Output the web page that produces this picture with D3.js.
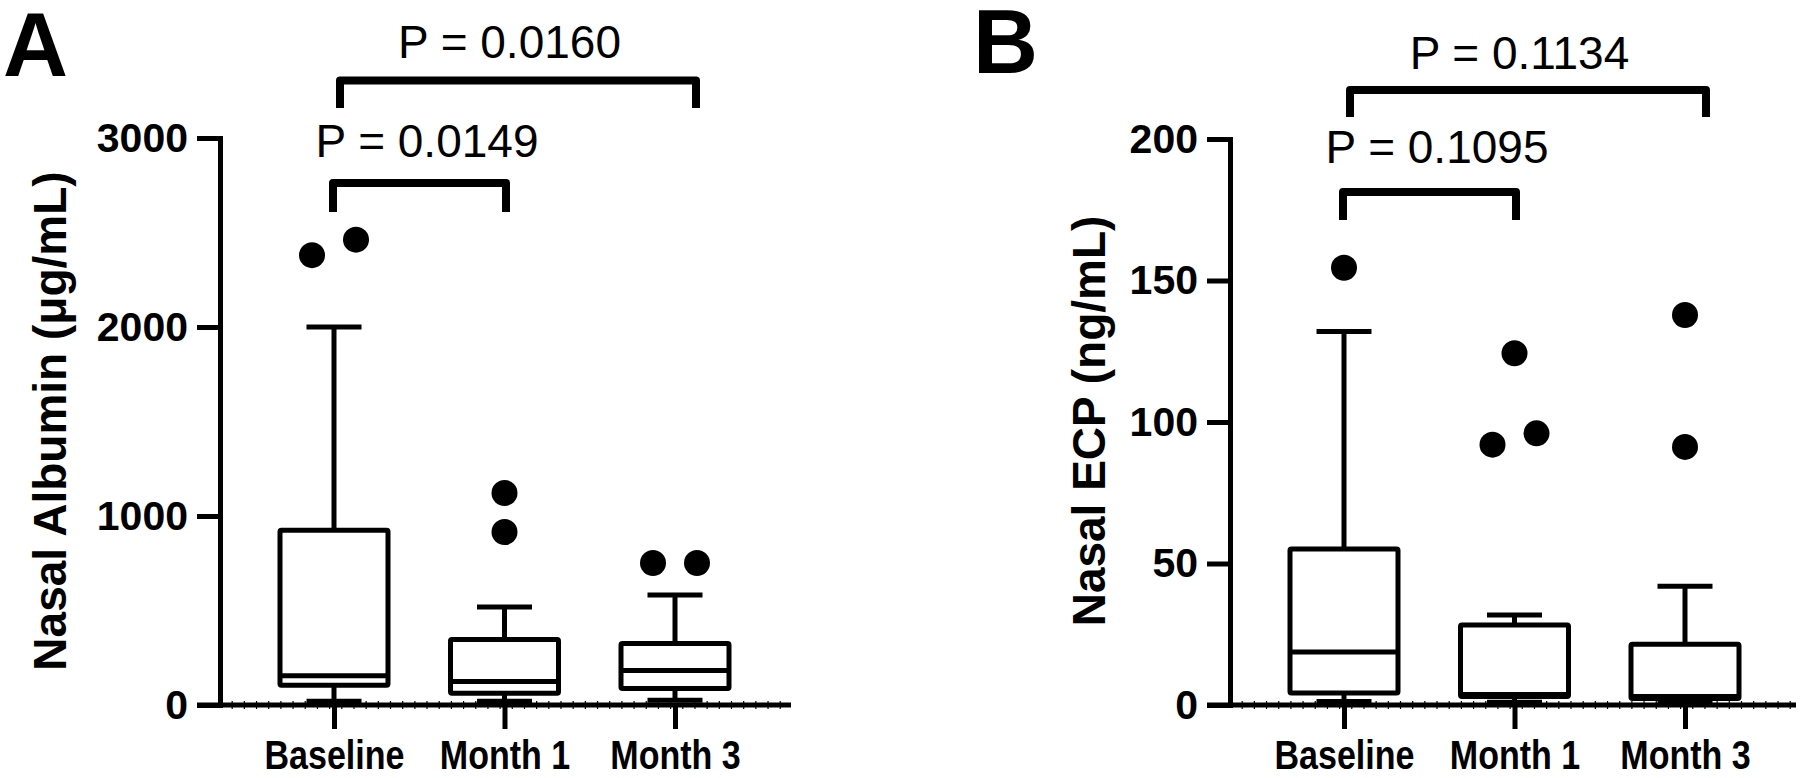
<!DOCTYPE html>
<html>
<head>
<meta charset="utf-8">
<script src="https://cdn.jsdelivr.net/npm/d3@7"></script>
<style>
  html, body { margin: 0; padding: 0; background: #fff; }
  svg { display: block; }
</style>
</head>
<body>
<script>
// ---------------- DATA ----------------
const categories = ["Baseline", "Month 1", "Month 3"];

// Panel A: Nasal Albumin (µg/mL)
const albuminLow     = [20, 20, 25];
const albuminQ1      = [105, 62, 87];
const albuminMedian  = [155, 125, 182];
const albuminQ3      = [925, 347, 325];
const albuminHigh    = [2000, 518, 582];
const albuminOutliers = [[2380, 2462], [915, 1122], [751, 751]];
const albuminTicks   = [0, 1000, 2000, 3000];
const albuminPLabels = ["P = 0.0149", "P = 0.0160"];

// Panel B: Nasal ECP (ng/mL)
const ecpLow     = [1.2, 1.0, 0.8];
const ecpQ1      = [4.2, 3.0, 2.3];
const ecpMedian  = [18.7, 3.7, 3.0];
const ecpQ3      = [55.1, 28.3, 21.5];
const ecpHigh    = [132, 31.8, 42];
const ecpOutliers = [[154.5], [92, 96, 124.3], [91.2, 137.8]];
const ecpTicks   = [0, 50, 100, 150, 200];
const ecpPLabels = ["P = 0.1095", "P = 0.1134"];

// ---------------- LAYOUT ----------------
const FONT = "'Liberation Sans', Arial, Helvetica, sans-serif";
const W = 1800, H = 778;
const svg = d3.select("body").append("svg").attr("width", W).attr("height", H);

function drawPanel(o) {
  const g = svg.append("g");
  const yMax = o.ticks[o.ticks.length - 1];
  const y = d3.scaleLinear().domain([0, yMax]).range([705, o.yTop]);
  const x = d3.scalePoint().domain(categories).range([o.axisX + 114, o.axisX + 114 + 341]);
  const step = x(categories[1]) - x(categories[0]);

  // panel letter
  g.append("text").attr("x", o.letterX).attr("y", o.letterY)
    .attr("font-family", FONT).attr("font-weight", "bold").attr("font-size", 90)
    .text(o.letter);

  // y title
  g.append("text")
    .attr("transform", `translate(${o.titleX},421) rotate(-90)`)
    .attr("text-anchor", "middle")
    .attr("font-family", FONT).attr("font-weight", "bold").attr("font-size", 46)
    .text(o.title);

  // x axis line
  g.append("line").attr("x1", o.axisX - 23).attr("x2", o.xEnd)
    .attr("y1", y(0)).attr("y2", y(0)).attr("stroke", "#000").attr("stroke-width", 5);

  // minor tick marks along x axis
  const minor = d3.range(o.axisX + step / 14, o.xEnd, step / 14);
  g.selectAll(".minor").data(minor).enter().append("line")
    .attr("x1", d => d).attr("x2", d => d)
    .attr("y1", y(0) - 4).attr("y2", y(0) + 4)
    .attr("stroke", "#000").attr("stroke-width", 1.2);

  // y axis
  const ya = g.append("g").attr("transform", `translate(${o.axisX},0)`)
    .call(d3.axisLeft(y).tickValues(o.ticks).tickSize(23).tickSizeOuter(0)
      .tickPadding(9).tickFormat(d3.format("d")));
  ya.select(".domain").attr("stroke", "#000").attr("stroke-width", 5).attr("stroke-linecap", "square");
  ya.selectAll(".tick line").attr("stroke", "#000").attr("stroke-width", 5);
  ya.selectAll(".tick text").attr("font-family", FONT).attr("font-weight", "bold")
    .attr("font-size", 41).attr("fill", "#000");

  // x axis ticks + labels (condensed bold labels)
  const xa = g.append("g").attr("transform", `translate(0,${y(0)})`)
    .call(d3.axisBottom(x).tickSize(24).tickSizeOuter(0));
  xa.select(".domain").remove();
  xa.selectAll(".tick line").attr("stroke", "#000").attr("stroke-width", 5);
  xa.selectAll(".tick text").attr("y", 64).attr("dy", 0)
    .attr("font-family", FONT).attr("font-weight", "bold")
    .attr("font-size", 41).attr("fill", "#000")
    .each(function () {
      const w = this.getComputedTextLength();
      d3.select(this).attr("textLength", w * 0.83).attr("lengthAdjust", "spacingAndGlyphs");
    });

  // boxes
  const capHalf = 27.5, boxHalf = 54;
  categories.forEach((c, i) => {
    const cx = x(c);
    const bg = g.append("g");
    // whiskers
    bg.append("line").attr("x1", cx).attr("x2", cx).attr("y1", y(o.q3[i])).attr("y2", y(o.high[i]))
      .attr("stroke", "#000").attr("stroke-width", 5);
    bg.append("line").attr("x1", cx).attr("x2", cx).attr("y1", y(o.q1[i])).attr("y2", y(o.low[i]))
      .attr("stroke", "#000").attr("stroke-width", 5);
    [o.high[i], o.low[i]].forEach(v => {
      bg.append("line").attr("x1", cx - capHalf).attr("x2", cx + capHalf)
        .attr("y1", y(v)).attr("y2", y(v)).attr("stroke", "#000").attr("stroke-width", 5);
    });
    // box
    bg.append("rect").attr("x", cx - boxHalf).attr("width", boxHalf * 2)
      .attr("y", y(o.q3[i])).attr("height", y(o.q1[i]) - y(o.q3[i]))
      .attr("fill", "#fff").attr("stroke", "#000").attr("stroke-width", 5)
      .attr("rx", 1.5);
    bg.append("line").attr("x1", cx - boxHalf).attr("x2", cx + boxHalf)
      .attr("y1", y(o.median[i])).attr("y2", y(o.median[i]))
      .attr("stroke", "#000").attr("stroke-width", 5);

    // outliers (spread overlapping points side by side)
    const vals = o.outliers[i].slice().sort((a, b) => a - b);
    const groups = [];
    vals.forEach(v => {
      const last = groups[groups.length - 1];
      if (last && Math.abs(y(last[last.length - 1]) - y(v)) < 26) last.push(v);
      else groups.push([v]);
    });
    groups.forEach(gr => {
      gr.forEach((v, k) => {
        const off = (k - (gr.length - 1) / 2) * 44;
        bg.append("circle").attr("cx", cx + off).attr("cy", y(v)).attr("r", 13).attr("fill", "#000");
      });
    });
  });

  // significance brackets
  const br = [
    { x1: x(categories[0]) - 1, x2: x(categories[1]) + 1.5, bar: o.lowBar, leg: o.lowLeg,
      tx: x(categories[0]) + 93, ty: o.lowText, label: o.pLabels[0] },
    { x1: x(categories[0]) + 6, x2: x(categories[2]) + 21, bar: o.topBar, leg: o.topLeg,
      tx: x(categories[1]) + 5, ty: o.topText, label: o.pLabels[1] }
  ];
  br.forEach(b => {
    g.append("path")
      .attr("d", `M${b.x1},${b.leg} V${b.bar} H${b.x2} V${b.leg}`)
      .attr("fill", "none").attr("stroke", "#000").attr("stroke-width", 8)
      .attr("stroke-linejoin", "round");
    g.append("text").attr("x", b.tx).attr("y", b.ty).attr("text-anchor", "middle")
      .attr("font-family", FONT).attr("font-size", 46).attr("fill", "#000")
      .text(b.label);
  });
}

drawPanel({
  letter: "A", letterX: 3, letterY: 76,
  title: "Nasal Albumin (μg/mL)", titleX: 66,
  axisX: 220, xEnd: 791, yTop: 138,
  ticks: albuminTicks,
  low: albuminLow, q1: albuminQ1, median: albuminMedian, q3: albuminQ3, high: albuminHigh,
  outliers: albuminOutliers, pLabels: albuminPLabels,
  lowBar: 183, lowLeg: 212, lowText: 157,
  topBar: 80.5, topLeg: 108, topText: 58
});

drawPanel({
  letter: "B", letterX: 973, letterY: 73,
  title: "Nasal ECP (ng/mL)", titleX: 1105,
  axisX: 1230, xEnd: 1796, yTop: 139,
  ticks: ecpTicks,
  low: ecpLow, q1: ecpQ1, median: ecpMedian, q3: ecpQ3, high: ecpHigh,
  outliers: ecpOutliers, pLabels: ecpPLabels,
  lowBar: 192, lowLeg: 220, lowText: 163,
  topBar: 90, topLeg: 117, topText: 69
});
</script>
</body>
</html>
